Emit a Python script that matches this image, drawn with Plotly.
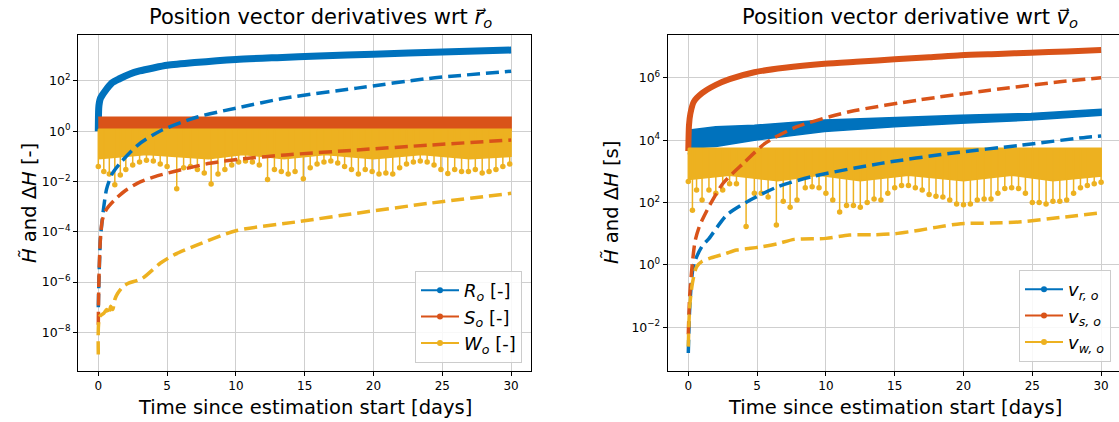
import plotly.graph_objects as go

# ---------------------------------------------------------------- colours
BLUE = "#0072BD"
ORANGE = "#D95319"
YELLOW = "#EDB120"
FONT = "DejaVu Sans"

# ---------------------------------------------------------------- tick labels
x_ticks = [0, 5, 10, 15, 20, 25, 30]
left_y_tickvals = [1e-8, 1e-6, 1e-4, 1e-2, 1e0, 1e2]
left_y_ticktext = ["10<sup>\u22128</sup>", "10<sup>\u22126</sup>", "10<sup>\u22124</sup>",
                   "10<sup>\u22122</sup>", "10<sup>0</sup>", "10<sup>2</sup>"]
right_y_tickvals = [1e-2, 1e0, 1e2, 1e4, 1e6]
right_y_ticktext = ["10<sup>\u22122</sup>", "10<sup>0</sup>", "10<sup>2</sup>",
                    "10<sup>4</sup>", "10<sup>6</sup>"]

# ================================================================ wrt r_o (left)
# R_o partial (solid)
r_R_t = [0, 0.03, 0.08, 0.15, 0.3, 0.5, 0.75, 1.0, 1.5, 2.3, 3.0, 4.0, 5.0, 7.0,
         10, 13, 16, 20, 25, 30]
r_R_val = [1.0, 8, 14, 20, 28, 40, 60, 85, 120, 190, 250, 330, 420, 540,
           720, 850, 980, 1170, 1420, 1700]

# S_o partial: dense oscillation band (upper / lower envelope)
r_S_t = [0, 30]
r_S_upper = [3.6, 3.6]
r_S_lower = [1.1, 1.1]

# W_o partial: dense oscillation band plus the deeper minima
r_W_t = [0, 30]
r_W_upper = [1.2, 1.2]
r_W_low_t = [0, 3.5, 8, 10.5, 13.5, 16.5, 20, 23.5, 27, 30]
r_W_low = [0.08, 0.12, 0.08, 0.12, 0.08, 0.12, 0.08, 0.12, 0.08, 0.1]
r_W_min_t = [0.0, 0.4, 0.8, 1.2, 1.6, 2.0, 2.5, 3.0, 3.5, 4.0, 4.5, 5.0, 5.7, 6.2,
             6.7, 7.2, 7.7, 8.2, 8.7, 9.2, 9.7, 10.2, 10.7, 11.2, 11.7, 12.3, 12.8,
             13.3, 13.8, 14.3, 14.9, 15.4, 15.9, 16.4, 16.9, 17.4, 17.9, 18.4, 18.9,
             19.4, 19.9, 20.4, 20.9, 21.4, 21.9, 22.4, 22.9, 23.4, 23.9, 24.4, 24.9,
             25.4, 25.9, 26.4, 26.9, 27.4, 27.9, 28.4, 28.9, 29.4, 29.9]
r_W_min = [0.04, 0.025, 0.02, 0.0075, 0.018, 0.03, 0.045, 0.06, 0.07, 0.065, 0.05,
           0.04, 0.0052, 0.035, 0.04, 0.03, 0.022, 0.008, 0.02, 0.03, 0.045, 0.06,
           0.065, 0.06, 0.045, 0.012, 0.03, 0.025, 0.02, 0.025, 0.013, 0.035, 0.05,
           0.06, 0.065, 0.055, 0.04, 0.03, 0.02, 0.03, 0.025, 0.02, 0.022, 0.02,
           0.035, 0.05, 0.06, 0.065, 0.06, 0.045, 0.03, 0.021, 0.03, 0.025, 0.025,
           0.03, 0.022, 0.025, 0.03, 0.04, 0.05]

# Delta H (dashed)
r_dR_t = [0, 0.05, 0.1, 0.15, 0.25, 0.4, 0.6, 1.0, 1.6, 2.9, 4.6, 7.2, 10, 13.6,
          18.8, 24, 30]
r_dR_val = [1e-7, 1.5e-6, 1e-5, 5e-5, 2e-4, 1e-3, 5e-3, 0.02, 0.055, 0.29, 1.1,
            3.7, 8.3, 21, 52, 126, 245]
r_dS_t = [0, 0.03, 0.08, 0.15, 0.3, 0.6, 1.2, 2.0, 2.9, 4.0, 5.5, 8.1, 10.5, 13.6,
          18.8, 24, 30]
r_dS_val = [2e-8, 5e-7, 6e-6, 5e-5, 3e-4, 8e-4, 1.9e-3, 4.5e-3, 8.8e-3, 0.015,
            0.025, 0.053, 0.08, 0.114, 0.18, 0.28, 0.45]
r_dW_t = [0, 0.1, 0.4, 0.6, 0.75, 0.9, 1.05, 1.2, 1.4, 1.8, 2.2, 3.2, 4.5, 5.5,
          7.2, 10, 14.7, 18.8, 24, 30]
r_dW_val = [1.3e-9, 4.2e-8, 5.7e-8, 8e-8, 5e-8, 1.1e-7, 8e-8, 2e-7, 3.5e-7,
            6.6e-7, 9e-7, 1.4e-6, 5.6e-6, 1.2e-5, 3e-5, 1.1e-4, 2.6e-4, 5.5e-4,
            1.35e-3, 3.4e-3]

# ================================================================ wrt v_o (right)
# v_s partial (solid)
v_S_t = [0, 0.05, 0.15, 0.4, 1.0, 2.0, 3.0, 4.8, 7, 9.9, 12.5, 15, 17.5, 19.8,
         22.5, 24.9, 27.5, 30]
v_S_val = [4.5e3, 3e4, 7e4, 1.7e5, 3.2e5, 5.9e5, 9e5, 1.5e6, 2.1e6, 2.8e6, 3.3e6,
           3.9e6, 4.5e6, 5.3e6, 5.8e6, 6.3e6, 7.0e6, 7.7e6]

# v_r partial: dense oscillation band
v_R_t = [0, 0.1, 2, 4.8, 9.9, 15, 19.8, 24.9, 30]
v_R_upper = [2.0e4, 2.1e4, 2.7e4, 3.0e4, 4.4e4, 5.4e4, 6.3e4, 7.2e4, 9.8e4]
v_R_lower = [3.5e3, 5.6e3, 6.2e3, 1.0e4, 1.9e4, 2.7e4, 3.5e4, 4.4e4, 6.3e4]

# v_w partial: dense oscillation band plus the deeper minima
v_W_t = [0, 30]
v_W_upper = [5.5e3, 5.5e3]
v_W_low_t = [0, 3, 6.5, 9.5, 12.5, 16, 20, 23.5, 26.5, 30]
v_W_low = [550, 750, 500, 750, 500, 750, 500, 750, 500, 700]
v_W_min_t = [0.0, 0.3, 0.6, 1.0, 1.5, 2.0, 2.5, 3.0, 3.5, 4.2, 4.8, 5.3, 5.8, 6.4,
             6.9, 7.4, 7.9, 8.5, 9.0, 9.5, 10.0, 10.5, 11.0, 11.5, 12.0, 12.5, 13.0,
             13.5, 14.0, 14.5, 15.0, 15.5, 16.0, 16.5, 17.0, 17.5, 18.0, 18.5, 19.0,
             19.5, 20.0, 20.5, 21.0, 21.5, 22.0, 22.5, 23.0, 23.5, 24.0, 24.5, 25.0,
             25.5, 26.0, 26.5, 27.0, 27.5, 28.0, 28.5, 29.0, 29.5, 30.0]
v_W_min = [470, 57, 250, 120, 250, 200, 250, 400, 400, 17, 200, 200, 150, 19, 110,
           70, 120, 300, 320, 300, 200, 120, 50, 80, 80, 70, 100, 130, 120, 200, 300,
           350, 350, 300, 250, 180, 160, 150, 120, 90, 85, 90, 120, 130, 130, 200,
           280, 300, 280, 200, 100, 100, 90, 110, 110, 120, 200, 300, 350, 400, 450]

# Delta H (dashed)
v_dR_t = [0, 0.05, 0.1, 0.3, 0.5, 1.0, 1.5, 2.8, 4.5, 6.5, 9.0, 14, 19.1, 24.2,
          29.3, 30]
v_dR_val = [1.5e-3, 0.01, 0.04, 0.6, 1.4, 4, 7, 40, 120, 320, 680, 1.8e3, 3.8e3,
            6.9e3, 1.29e4, 1.35e4]
v_dS_t = [0, 0.1, 0.3, 0.5, 0.8, 1.0, 1.5, 2.5, 4.0, 5.6, 7.9, 11.7, 16.8, 21.9,
          27, 30]
v_dS_val = [6e-3, 0.1, 1.2, 6, 17, 27, 74, 400, 1.8e3, 8e3, 2.7e4, 8.1e4, 1.95e5,
            4.0e5, 7.4e5, 1.0e6]
v_dW_t = [0, 0.1, 0.3, 0.6, 1.0, 1.5, 2.7, 3.5, 4.5, 5.3, 6.5, 7.7, 10, 11.7,
          13.5, 15, 16.8, 18, 19.8, 22, 24.2, 27, 30]
v_dW_val = [2.4e-3, 0.046, 0.26, 0.87, 1.3, 1.6, 2.3, 3.0, 3.4, 3.8, 4.8, 6.6, 7.1,
            9.1, 9.3, 10, 13, 16, 21, 22, 24, 33, 47]

# ---------------------------------------------------------------- legend labels
left_names = ["<i>R<sub>o</sub></i> [-]", "<i>S<sub>o</sub></i> [-]",
              "<i>W<sub>o</sub></i> [-]"]
right_names = ["<i>v<sub>r, o</sub></i>", "<i>v<sub>s, o</sub></i>",
               "<i>v<sub>w, o</sub></i>"]

W, H = 1119, 422
fig = go.Figure()


def band(t_up, up, t_lo, lo, color, xa, ya):
    fig.add_trace(go.Scatter(
        x=list(t_up) + list(t_lo)[::-1], y=list(up) + list(lo)[::-1],
        mode="lines", fill="toself", fillcolor=color,
        line=dict(color=color, width=1.5), showlegend=False,
        xaxis=xa, yaxis=ya, hoverinfo="skip"))


def solid(t, v, color, width, xa, ya):
    fig.add_trace(go.Scatter(x=t, y=v, mode="lines",
                             line=dict(color=color, width=width, shape="spline",
                                       smoothing=0.7),
                             showlegend=False, xaxis=xa, yaxis=ya))


def stems(t, v, top, color, xa, ya):
    xs, ys = [], []
    for ti, vi in zip(t, v):
        xs += [ti, ti, None]
        ys += [top, vi, None]
    fig.add_trace(go.Scatter(x=xs, y=ys, mode="lines",
                             line=dict(color=color, width=1.5),
                             showlegend=False, xaxis=xa, yaxis=ya))
    fig.add_trace(go.Scatter(x=t, y=v, mode="markers",
                             marker=dict(color=color, size=5.5),
                             showlegend=False, xaxis=xa, yaxis=ya))


def dashed(t, v, color, xa, ya):
    fig.add_trace(go.Scatter(x=t, y=v, mode="lines",
                             line=dict(color=color, width=3.5, dash="13px,6px",
                                       shape="spline", smoothing=0.7),
                             showlegend=False, xaxis=xa, yaxis=ya))


def legend_entry(name, color, legend, xa, ya):
    fig.add_trace(go.Scatter(x=[None], y=[None], mode="lines+markers", name=name,
                             line=dict(color=color, width=2),
                             marker=dict(color=color, size=6),
                             legend=legend, xaxis=xa, yaxis=ya))


# left panel
solid(r_R_t, r_R_val, BLUE, 7, "x", "y")
band(r_S_t, r_S_upper, r_S_t, r_S_lower, ORANGE, "x", "y")
band(r_W_t, r_W_upper, r_W_low_t, r_W_low, YELLOW, "x", "y")
stems(r_W_min_t, r_W_min, r_W_upper[0], YELLOW, "x", "y")
dashed(r_dR_t, r_dR_val, BLUE, "x", "y")
dashed(r_dS_t, r_dS_val, ORANGE, "x", "y")
dashed(r_dW_t, r_dW_val, YELLOW, "x", "y")
for nm, c in zip(left_names, [BLUE, ORANGE, YELLOW]):
    legend_entry(nm, c, "legend", "x", "y")

# right panel
band(v_R_t, v_R_upper, v_R_t, v_R_lower, BLUE, "x2", "y2")
solid(v_S_t, v_S_val, ORANGE, 6, "x2", "y2")
band(v_W_t, v_W_upper, v_W_low_t, v_W_low, YELLOW, "x2", "y2")
stems(v_W_min_t, v_W_min, v_W_upper[0], YELLOW, "x2", "y2")
dashed(v_dR_t, v_dR_val, BLUE, "x2", "y2")
dashed(v_dS_t, v_dS_val, ORANGE, "x2", "y2")
dashed(v_dW_t, v_dW_val, YELLOW, "x2", "y2")
for nm, c in zip(right_names, [BLUE, ORANGE, YELLOW]):
    legend_entry(nm, c, "legend2", "x2", "y2")

# ---------------------------------------------------------------- axes
px_day = 13.76
x0_left, x0_right = 98.3, 688.3
ax_top, ax_bot = 35, 371
ydom = [1 - ax_bot / H, 1 - ax_top / H]

common_x = dict(tickmode="array", tickvals=x_ticks, ticks="outside", ticklen=4,
                tickwidth=1, tickcolor="black", showline=True, linecolor="black",
                linewidth=1, showgrid=True, gridcolor="#cfcfcf", gridwidth=1,
                zeroline=False, tickfont=dict(family=FONT, size=12, color="black"))
common_y = dict(type="log", tickmode="array", ticks="outside", ticklen=4,
                tickwidth=1, tickcolor="black", showline=True, linecolor="black",
                linewidth=1, showgrid=True, gridcolor="#cfcfcf", gridwidth=1,
                zeroline=False, tickfont=dict(family=FONT, size=12.5, color="black"))

fig.update_layout(
    width=W, height=H, margin=dict(l=0, r=0, t=0, b=0),
    paper_bgcolor="white", plot_bgcolor="white",
    font=dict(family=FONT, color="black"),
    xaxis=dict(common_x, domain=[78 / W, 531 / W], anchor="y", mirror=True,
               range=[(78 - x0_left) / px_day, (531 - x0_left) / px_day]),
    yaxis=dict(common_y, domain=ydom, anchor="x", mirror=True,
               range=[-9.54, 3.83], tickvals=left_y_tickvals,
               ticktext=left_y_ticktext),
    xaxis2=dict(common_x, domain=[667.7 / W, 1.0], anchor="y2", mirror=True,
                range=[(667.7 - x0_right) / px_day, (W - x0_right) / px_day]),
    yaxis2=dict(common_y, domain=ydom, anchor="x2", mirror=False,
                range=[-3.40, 7.37], tickvals=right_y_tickvals,
                ticktext=right_y_ticktext),
    legend=dict(x=522 / W, xanchor="right", y=1 - 363 / H, yanchor="bottom",
                bgcolor="rgba(255,255,255,0.85)", bordercolor="#cccccc",
                borderwidth=1, font=dict(family=FONT, size=18),
                itemwidth=38, tracegroupgap=0),
    legend2=dict(x=1111 / W, xanchor="right", y=1 - 362 / H, yanchor="bottom",
                 bgcolor="rgba(255,255,255,0.85)", bordercolor="#cccccc",
                 borderwidth=1, font=dict(family=FONT, size=18),
                 itemwidth=38, tracegroupgap=0),
)

# ---------------------------------------------------------------- titles
def text(s, xpx, ypx, size, angle=0):
    fig.add_annotation(text=s, x=xpx / W, y=1 - ypx / H, xref="paper", yref="paper",
                       showarrow=False, textangle=angle, xanchor="center",
                       yanchor="middle", font=dict(family=FONT, size=size,
                                                   color="black"))


text("Position vector derivatives wrt <i>r\u20d7</i><sub><i>o</i></sub>", 320, 18, 21)
text("Position vector derivative wrt <i>v\u20d7</i><sub><i>o</i></sub>", 910, 18, 21)
text("Time since estimation start [days]", 304.5, 407, 19.5)
text("Time since estimation start [days]", 894.5, 407, 19.5)
text("<i>H\u0303</i> and \u0394<i>H</i> [-]", 29, 203, 19.5, -90)
text("<i>H\u0303</i> and \u0394<i>H</i> [s]", 611, 203, 19.5, -90)

fig.write_html("out.html")
